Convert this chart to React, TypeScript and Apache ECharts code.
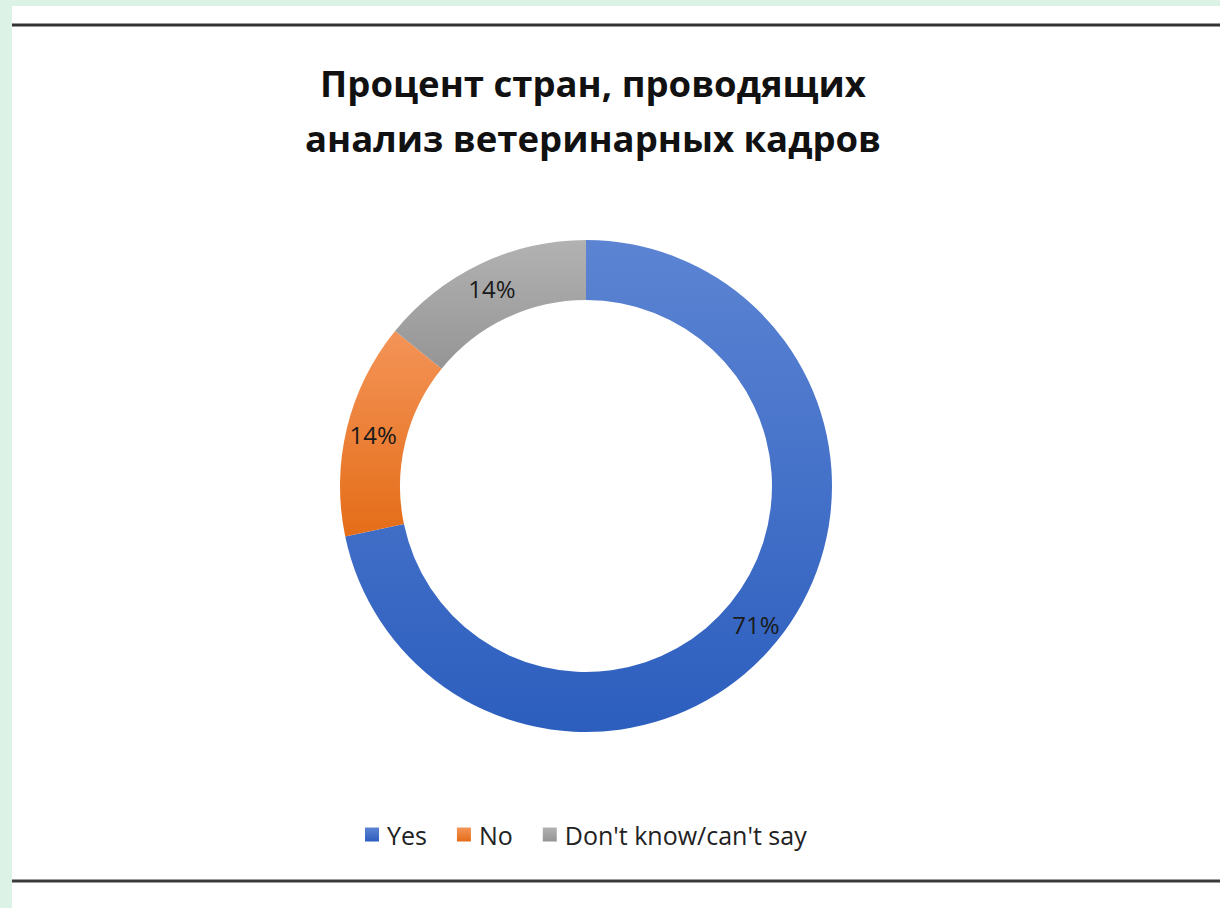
import React, { useEffect, useRef } from "react";
import * as echarts from "echarts";

const titleLines = ["Процент стран, проводящих", "анализ ветеринарных кадров"];
const categories = ["Yes", "No", "Don't know/can't say"];
const values = [71, 14, 14];

const grad = (top: string, bottom: string) =>
  new echarts.graphic.LinearGradient(0, 0, 0, 1, [
    { offset: 0, color: top },
    { offset: 1, color: bottom },
  ]);

const sliceColors = [
  grad("#5c84d3", "#2c5ebe"),
  grad("#f49458", "#e46d18"),
  grad("#b2b2b2", "#959595"),
];
const legendColors = ["#4472c4", "#ed7d31", "#a5a5a5"];

export default function App() {
  const ref = useRef<HTMLDivElement>(null);
  useEffect(() => {
    if (!ref.current) return;
    const chart = echarts.init(ref.current, null, { renderer: "svg" });
    chart.setOption({
      animation: false,
      backgroundColor: "#dcf2e6",
      graphic: [
        { type: "rect", shape: { x: 12, y: 6, width: 1208, height: 902 }, style: { fill: "#ffffff" }, z: -10 },
        { type: "rect", shape: { x: 12, y: 23.5, width: 1208, height: 3 }, style: { fill: "#333333" }, z: -5 },
        { type: "rect", shape: { x: 12, y: 879.5, width: 1208, height: 3 }, style: { fill: "#3a3a3a" }, z: -5 },
      ],
      title: {
        text: titleLines.join("\n"),
        left: 588,
        textAlign: "center",
        top: 50,
        textStyle: {
          fontFamily: "Open Sans",
          fontWeight: "bold",
          fontSize: 36.5,
          lineHeight: 55,
          color: "#111111",
        },
      },
      legend: {
        data: categories,
        top: 817,
        left: 360,
        icon: "rect",
        itemWidth: 14,
        itemHeight: 14,
        itemGap: 30,
        textStyle: { fontFamily: "Open Sans", fontSize: 25, color: "#222222", padding: [0, 0, 0, 3] },
      },
      series: [
        {
          type: "pie",
          center: [586, 486],
          radius: [186, 246],
          startAngle: 90,
          clockwise: true,
          silent: true,
          label: {
            show: true,
            position: "inside",
            formatter: (p: any) => `${p.value}%`,
            fontFamily: "Open Sans",
            fontSize: 24,
            color: "#1a1a1a",
          },
          labelLine: { show: false },
          data: categories.map((name, i) => ({
            name,
            value: values[i],
            itemStyle: { color: sliceColors[i] },
          })),
        },
      ],
      color: legendColors,
    });
    return () => chart.dispose();
  }, []);
  return (
    <div
      ref={ref}
      style={{ position: "fixed", left: 0, top: 0, width: 1220, height: 908 }}
    />
  );
}
